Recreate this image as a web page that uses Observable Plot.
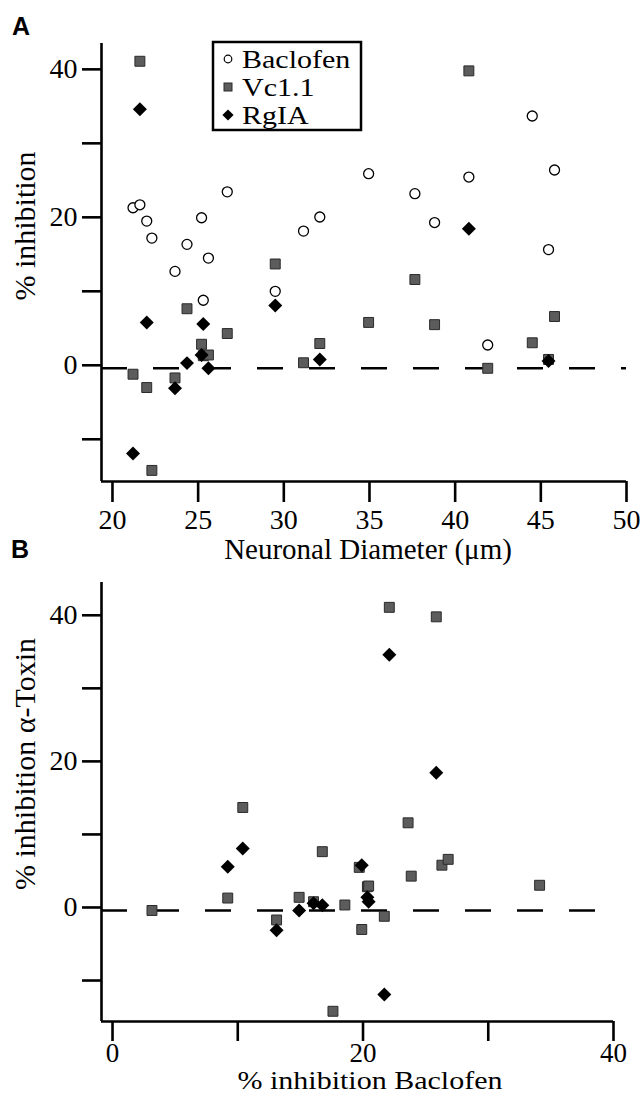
<!DOCTYPE html>
<html><head><meta charset="utf-8">
<script src="https://cdn.jsdelivr.net/npm/d3@7"></script>
<script src="https://cdn.jsdelivr.net/npm/@observablehq/plot@0.6"></script>
<style>
body{margin:0;background:#fff;}
#wrap{position:relative;width:641px;height:1094px;overflow:hidden;}
#wrap > svg{display:block;}
#overlay{position:absolute;left:0;top:0;pointer-events:none;}
</style></head><body><div id="wrap"></div>
<script>
// ---- data: one entry per neuron ----
const diameter = [21.2, 21.6, 22.0, 22.3, 23.65, 24.35, 25.2, 25.3, 25.6, 26.7, 29.5, 31.15, 32.1, 34.95, 37.65, 38.8, 40.8, 41.9, 44.5, 45.45, 45.8];
const baclofen = [21.7, 22.1, 19.9, 17.6, 13.1, 16.75, 20.35, 9.2, 14.9, 23.85, 10.4, 18.55, 20.45, 26.3, 23.6, 19.7, 25.85, 3.15, 34.1, 16.05, 26.8];
const vc11     = [-0.8, 41.5, -2.6, -13.8, -1.3, 8.05, 3.25, 1.7, 1.8, 4.7, 14.1, 0.75, 3.35, 6.2, 12.0, 5.9, 40.2, 0.0, 3.45, 1.2, 7.0];
const rgia     = [-11.5, 35.0, 6.2, null, -2.7, 0.7, 1.8, 6.0, 0.0, null, 8.5, null, 1.2, null, null, null, 18.85, null, null, 1.0, null];

// ---- axes ----
const seriesNames = ["Baclofen", "Vc1.1", "RgIA"];
const xDomA = [19.36, 50], yDomA = [-15.3, 43.9];
const xTicksA = [20, 25, 30, 35, 40, 45, 50];
const yTicksA = [-10, 0, 10, 20, 30, 40];
const yLabelsA = [0, 20, 40];
const zeroEndA = 50;
const xLabelA = "Neuronal Diameter (\u03bcm)";
const yLabelA = "% inhibition";

const xDomB = [-0.88, 40], yDomB = [-15.2, 44.9];
const xTicksB = [0, 10, 20, 30, 40];
const xLabelsB = [0, 20, 40];
const yTicksB = [-10, 0, 10, 20, 30, 40];
const yLabelsB = [0, 20, 40];
const zeroEndB = 38.6;
const xLabelB = "% inhibition Baclofen";
const yLabelB = "% inhibition \u03b1-Toxin";

const cells = diameter.map((d, i) => ({diameter: d, baclofen: baclofen[i], vc: vc11[i], rgia: rgia[i]}));
const vcCells = cells.filter(d => d.vc != null);
const rgCells = cells.filter(d => d.rgia != null);

const serif = '"Liberation Serif", "Times New Roman", serif';
const sqFill = "#5c5c5c", sqStroke = "#2a2a2a";
const lw = 2.6;
const tickFont = 28;

function fmt(labels) { return d => labels.includes(d) ? String(d) : ""; }

const plotA = Plot.plot({
  width: 641, height: 565,
  marginLeft: 101, marginRight: 15, marginTop: 43, marginBottom: 84,
  style: {fontFamily: serif, fontSize: "28px", background: "white", color: "black", overflow: "visible"},
  x: {domain: xDomA},
  y: {domain: yDomA},
  marks: [
    Plot.ruleY([0], {x1: () => xDomA[0], x2: () => zeroEndA, stroke: "black", strokeWidth: lw, strokeDasharray: "26,26"}),
    Plot.ruleX([xDomA[0]], {stroke: "black", strokeWidth: lw}),
    Plot.ruleY([yDomA[0]], {stroke: "black", strokeWidth: lw}),
    Plot.axisY({ticks: yTicksA, tickFormat: fmt(yLabelsA), tickSize: 19, tickPadding: 5, strokeWidth: lw, fontSize: tickFont, dy: -3, label: null}),
    Plot.axisX({ticks: xTicksA, tickFormat: d => String(d), tickSize: 21, tickPadding: 7, strokeWidth: lw, fontSize: tickFont, label: null}),
    Plot.dot(cells, {x: "diameter", y: "baclofen", r: 5, fill: "white", stroke: "black", strokeWidth: 1.3}),
    Plot.dot(vcCells, {x: "diameter", y: "vc", symbol: "square", r: 5.6, fill: sqFill, stroke: sqStroke, strokeWidth: 1}),
    Plot.dot(rgCells, {x: "diameter", y: "rgia", symbol: "diamond2", r: 6.3, fill: "black", stroke: "none"})
  ]
});

const plotB = Plot.plot({
  width: 641, height: 529,
  marginLeft: 101, marginRight: 28, marginTop: 17, marginBottom: 73,
  style: {fontFamily: serif, fontSize: "28px", background: "white", color: "black", overflow: "visible"},
  x: {domain: xDomB},
  y: {domain: yDomB},
  marks: [
    Plot.ruleY([0], {x1: () => xDomB[0], x2: () => zeroEndB, stroke: "black", strokeWidth: lw, strokeDasharray: "26,26"}),
    Plot.ruleX([xDomB[0]], {stroke: "black", strokeWidth: lw}),
    Plot.ruleY([yDomB[0]], {stroke: "black", strokeWidth: lw}),
    Plot.axisY({ticks: yTicksB, tickFormat: fmt(yLabelsB), tickSize: 19, tickPadding: 5, strokeWidth: lw, fontSize: tickFont, dy: -3, label: null}),
    Plot.axisX({ticks: xTicksB, tickFormat: fmt(xLabelsB), tickSize: 20, tickPadding: 1, strokeWidth: lw, fontSize: 27, label: null}),
    Plot.dot(vcCells, {x: "baclofen", y: "vc", symbol: "square", r: 5.6, fill: sqFill, stroke: sqStroke, strokeWidth: 1}),
    Plot.dot(rgCells, {x: "baclofen", y: "rgia", symbol: "diamond2", r: 6.3, fill: "black", stroke: "none"})
  ]
});

const wrap = document.getElementById("wrap");
wrap.appendChild(plotA);
wrap.appendChild(plotB);

// ---- overlay: panel letters, axis titles, legend ----
const ov = d3.select(wrap).append("svg").attr("id", "overlay")
  .attr("width", 641).attr("height", 1094)
  .style("font-family", serif).style("font-size", "29px");

ov.append("text").text("A").attr("x", 12).attr("y", 35)
  .style("font-family", '"Liberation Sans", Arial, sans-serif').style("font-weight", "bold").style("font-size", "25px");
ov.append("text").text("B").attr("x", 11).attr("y", 558)
  .style("font-family", '"Liberation Sans", Arial, sans-serif').style("font-weight", "bold").style("font-size", "25px");

ov.append("text").text(xLabelA).attr("x", 368).attr("y", 559).attr("text-anchor", "middle");
ov.append("text").text(xLabelB).attr("transform", "translate(370,1089) scale(1.2,1)").attr("text-anchor", "middle").style("font-size", "25px");
ov.append("text").text(yLabelA).attr("transform", "translate(35,226) rotate(-90)").attr("text-anchor", "middle").style("font-size", "30px");
ov.append("text").text(yLabelB).attr("transform", "translate(35,764) rotate(-90)").attr("text-anchor", "middle").style("font-size", "30px");

// legend
const lg = ov.append("g");
lg.append("rect").attr("x", 213).attr("y", 42).attr("width", 148).attr("height", 88)
  .attr("fill", "white").attr("stroke", "black").attr("stroke-width", 2.5);
const rowY = [59, 87, 115];
lg.append("circle").attr("cx", 228).attr("cy", rowY[0]).attr("r", 3.8).attr("fill", "white").attr("stroke", "black").attr("stroke-width", 1.2);
lg.append("rect").attr("x", 224).attr("y", rowY[1] - 4).attr("width", 8).attr("height", 8).attr("fill", sqFill).attr("stroke", sqStroke).attr("stroke-width", 1);
lg.append("path").attr("d", d3.symbol(d3.symbolDiamond2, 80)()).attr("transform", `translate(228,${rowY[2]})`).attr("fill", "black");
seriesNames.forEach((name, i) => {
  lg.append("text").text(name).attr("transform", `translate(242,${rowY[i] + 9}) scale(1.2,1)`).style("font-size", "25px");
});
</script>
</body></html>
